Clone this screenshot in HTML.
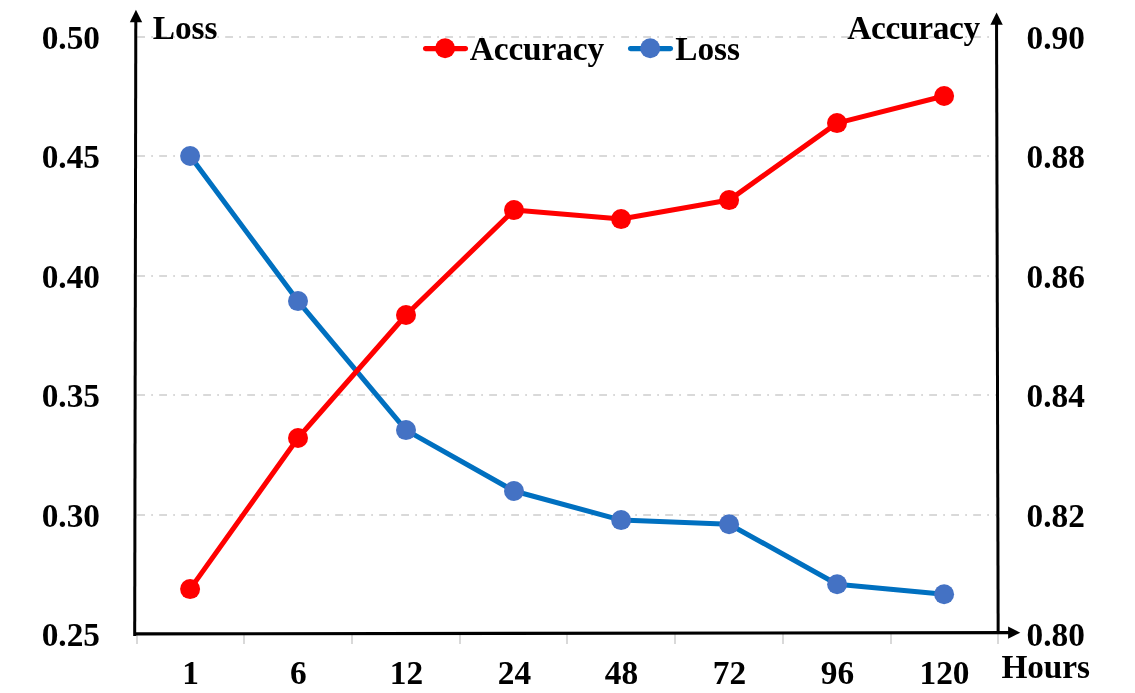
<!DOCTYPE html>
<html><head><meta charset="utf-8"><title>chart</title>
<style>
html,body{margin:0;padding:0;background:#fff;}
body{width:1135px;height:693px;overflow:hidden;font-family:"Liberation Serif",serif;}
svg{display:block;}
text{font-family:"Liberation Serif",serif;font-weight:bold;font-size:33.33px;fill:#000;filter:grayscale(1);}
</style></head><body>
<svg width="1135" height="693" viewBox="0 0 1135 693">
<rect width="1135" height="693" fill="#fff"/>
<line x1="137.2" y1="37.00" x2="996" y2="37.00" stroke="#d9d9d9" stroke-width="2" stroke-dasharray="7.8 6.2 1.8 6.2"/>
<line x1="137.2" y1="156.00" x2="996" y2="156.00" stroke="#d9d9d9" stroke-width="2" stroke-dasharray="7.8 6.2 1.8 6.2"/>
<line x1="137.2" y1="276.00" x2="996" y2="276.00" stroke="#d9d9d9" stroke-width="2" stroke-dasharray="7.8 6.2 1.8 6.2"/>
<line x1="137.2" y1="395.00" x2="996" y2="395.00" stroke="#d9d9d9" stroke-width="2" stroke-dasharray="7.8 6.2 1.8 6.2"/>
<line x1="137.2" y1="515.00" x2="996" y2="515.00" stroke="#d9d9d9" stroke-width="2" stroke-dasharray="7.8 6.2 1.8 6.2"/>
<line x1="137.00" y1="634" x2="137.00" y2="644" stroke="#d9d9d9" stroke-width="2"/>
<line x1="244.00" y1="634" x2="244.00" y2="644" stroke="#d9d9d9" stroke-width="2"/>
<line x1="352.00" y1="634" x2="352.00" y2="644" stroke="#d9d9d9" stroke-width="2"/>
<line x1="460.00" y1="634" x2="460.00" y2="644" stroke="#d9d9d9" stroke-width="2"/>
<line x1="567.00" y1="634" x2="567.00" y2="644" stroke="#d9d9d9" stroke-width="2"/>
<line x1="675.00" y1="634" x2="675.00" y2="644" stroke="#d9d9d9" stroke-width="2"/>
<line x1="783.00" y1="634" x2="783.00" y2="644" stroke="#d9d9d9" stroke-width="2"/>
<line x1="891.00" y1="634" x2="891.00" y2="644" stroke="#d9d9d9" stroke-width="2"/>
<line x1="998.00" y1="634" x2="998.00" y2="644" stroke="#d9d9d9" stroke-width="2"/>
<polyline fill="none" stroke="#0070c0" stroke-width="5.05" stroke-linejoin="round" stroke-linecap="round" points="190.1,156.0 298.0,301.1 406.0,430.1 514.0,491.0 621.1,520.1 729.1,524.2 837.1,584.2 944.1,594.2"/>
<circle cx="190.1" cy="156.0" r="10" fill="#4472c4"/>
<circle cx="298.0" cy="301.1" r="10" fill="#4472c4"/>
<circle cx="406.0" cy="430.1" r="10" fill="#4472c4"/>
<circle cx="514.0" cy="491.0" r="10" fill="#4472c4"/>
<circle cx="621.1" cy="520.1" r="10" fill="#4472c4"/>
<circle cx="729.1" cy="524.2" r="10" fill="#4472c4"/>
<circle cx="837.1" cy="584.2" r="10" fill="#4472c4"/>
<circle cx="944.1" cy="594.2" r="10" fill="#4472c4"/>
<polyline fill="none" stroke="#ff0000" stroke-width="5.05" stroke-linejoin="round" stroke-linecap="round" points="190.1,589.1 298.0,438.0 406.0,315.0 514.0,210.1 621.1,219.1 729.1,200.1 837.0,123.1 944.1,96.0"/>
<circle cx="190.1" cy="589.1" r="10" fill="#ff0000"/>
<circle cx="298.0" cy="438.0" r="10" fill="#ff0000"/>
<circle cx="406.0" cy="315.0" r="10" fill="#ff0000"/>
<circle cx="514.0" cy="210.1" r="10" fill="#ff0000"/>
<circle cx="621.1" cy="219.1" r="10" fill="#ff0000"/>
<circle cx="729.1" cy="200.1" r="10" fill="#ff0000"/>
<circle cx="837.0" cy="123.1" r="10" fill="#ff0000"/>
<circle cx="944.1" cy="96.0" r="10" fill="#ff0000"/>
<line x1="135.8" y1="20" x2="134.7" y2="635.9" stroke="#000" stroke-width="3"/>
<polygon points="135.95,9.7 129.8,22.3 142.2,22.3" fill="#000"/>
<line x1="996.55" y1="22" x2="998.15" y2="634" stroke="#000" stroke-width="3"/>
<polygon points="996.6,12.5 990.4,24.8 1002.8,24.8" fill="#000"/>
<line x1="134.7" y1="633.85" x2="1010" y2="632.65" stroke="#000" stroke-width="3.1"/>
<polygon points="1020.3,632.7 1008.1,626.6 1008.1,638.8" fill="#000"/>
<line x1="425.5" y1="48.6" x2="465.5" y2="48.6" stroke="#ff0000" stroke-width="5.05" stroke-linecap="round"/>
<circle cx="445.1" cy="48.25" r="10" fill="#ff0000"/>
<text x="469.8" y="60" style="letter-spacing:-0.12px">Accuracy</text>
<line x1="630.5" y1="48.6" x2="670.5" y2="48.6" stroke="#0070c0" stroke-width="5.05" stroke-linecap="round"/>
<circle cx="650.2" cy="48.25" r="10" fill="#4472c4"/>
<text x="675.2" y="60">Loss</text>
<text x="152.7" y="39">Loss</text>
<text x="847.2" y="39.05" style="letter-spacing:-0.3px">Accuracy</text>
<text x="1001.4" y="677.9" style="letter-spacing:-0.1px">Hours</text>
<text x="100" y="48.8" text-anchor="end">0.50</text>
<text x="100" y="168.0" text-anchor="end">0.45</text>
<text x="100" y="287.8" text-anchor="end">0.40</text>
<text x="100" y="406.9" text-anchor="end">0.35</text>
<text x="100" y="526.9" text-anchor="end">0.30</text>
<text x="100" y="645.9" text-anchor="end">0.25</text>
<text x="1026.6" y="48.5">0.90</text>
<text x="1026.6" y="167.7">0.88</text>
<text x="1026.6" y="287.6">0.86</text>
<text x="1026.6" y="406.7">0.84</text>
<text x="1026.6" y="526.6">0.82</text>
<text x="1026.6" y="645.6">0.80</text>
<text x="190.5" y="684.1" text-anchor="middle">1</text>
<text x="298.4" y="684.1" text-anchor="middle">6</text>
<text x="406.4" y="684.1" text-anchor="middle">12</text>
<text x="514.4" y="684.1" text-anchor="middle">24</text>
<text x="621.5" y="684.1" text-anchor="middle">48</text>
<text x="729.5" y="684.1" text-anchor="middle">72</text>
<text x="837.4" y="684.1" text-anchor="middle">96</text>
<text x="944.5" y="684.1" text-anchor="middle">120</text>
</svg></body></html>
